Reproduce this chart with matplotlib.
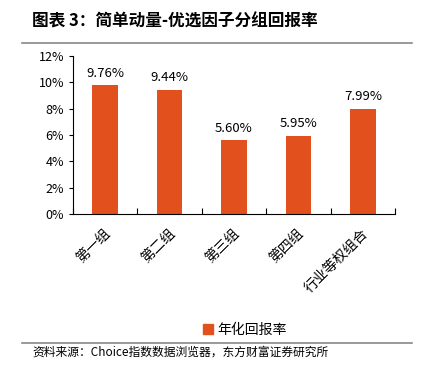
import matplotlib
matplotlib.use("Agg")
import matplotlib.pyplot as plt
from matplotlib.lines import Line2D
from matplotlib.patches import Patch

plt.rcParams['font.family'] = ['Noto Sans CJK SC', 'DejaVu Sans']

categories = ["第一组", "第二组", "第三组", "第四组", "行业等权组合"]
values = [9.76, 9.44, 5.60, 5.95, 7.99]
yticks = [0, 2, 4, 6, 8, 10, 12]
series_name = "年化回报率"
title = "图表 3：简单动量-优选因子分组回报率"
source = "资料来源：Choice指数数据浏览器，东方财富证券研究所"
color = "#E2501E"

fig = plt.figure(figsize=(4.28, 3.70), dpi=100)
ax = fig.add_axes([73/428, 1-214/370, (395-73)/428, (214-56)/370])

x = list(range(len(categories)))
ax.bar(x, values, width=0.4, color=color, label=series_name)
for xi, v in zip(x, values):
    ax.annotate(f"{v:.2f}%", (xi, v), xytext=(0, 4), textcoords="offset points",
                ha="center", va="bottom", fontsize=9.5)

ax.set_xlim(-0.5, len(categories) - 0.5)
ax.set_ylim(0, 12)
ax.set_yticks(yticks)
ax.set_yticklabels([f"{t}%" for t in yticks], fontsize=9)
ax.set_xticks([i + 0.5 for i in range(-1, len(categories))])
ax.set_xticklabels([])
ax.tick_params(axis="x", direction="in", length=4)
ax.tick_params(axis="y", direction="out", length=3)
for i, c in enumerate(categories):
    ax.text(i + 0.05, -1.3, c, rotation=45, rotation_mode="anchor",
            ha="right", va="center", fontsize=10)
for s in ["top", "right"]:
    ax.spines[s].set_visible(False)

fig.text(32/428, 1-22/370, title, fontsize=12, fontweight="bold", va="center", ha="left")
fig.add_artist(Line2D([22/428, 412/428], [1-43/370, 1-43/370], color="#888888", lw=1.2))
fig.legend(handles=[Patch(color=color, label=series_name)], loc="center",
           bbox_to_anchor=(245/428, 1-330/370), frameon=False, fontsize=10,
           handlelength=0.7, handleheight=0.7, handletextpad=0.3)
fig.add_artist(Line2D([22/428, 412/428], [1-343/370, 1-343/370], color="#888888", lw=1.2))
fig.text(32/428, 1-352/370, source, fontsize=8.5, va="center", ha="left")

fig.savefig("out.png", dpi=100)
